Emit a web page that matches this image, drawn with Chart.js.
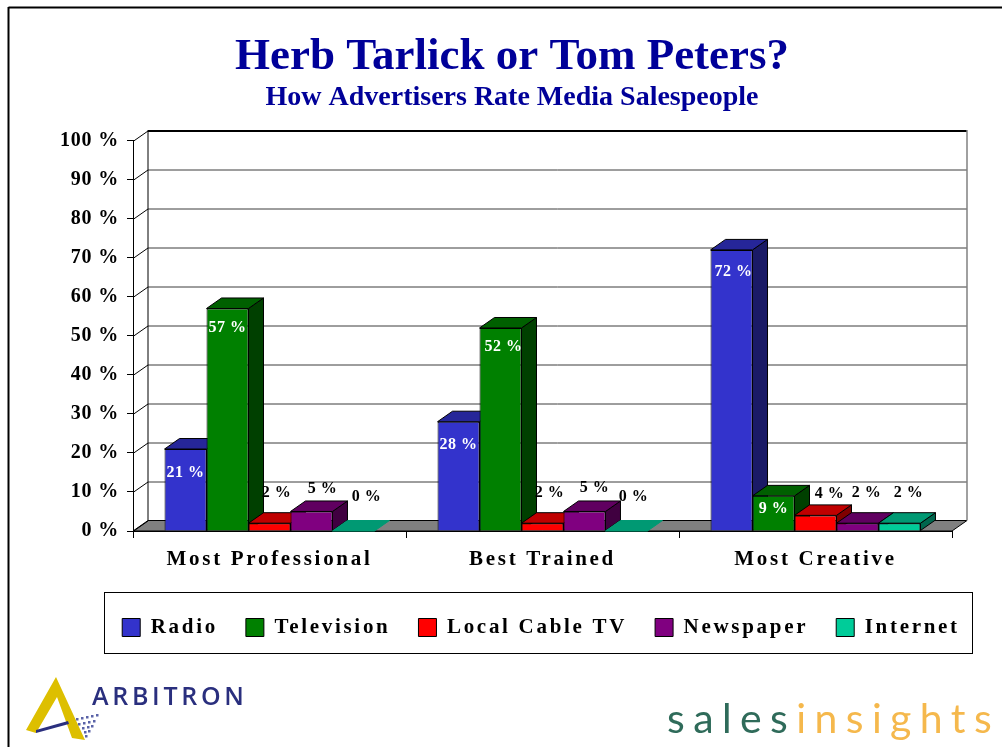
<!DOCTYPE html>
<html><head><meta charset="utf-8">
<style>html,body{margin:0;padding:0;background:#fff}canvas{display:block}</style>
<script src="https://cdn.jsdelivr.net/npm/chart.js@4/dist/chart.umd.min.js"></script>
</head><body><canvas id="c" width="1002" height="747"></canvas>
<script>
const categories = ['Most Professional', 'Best Trained', 'Most Creative'];
const radio = [21, 28, 72];
const television = [57, 52, 9];
const localCable = [2, 2, 4];
const newspaper = [5, 5, 2];
const internet = [0, 0, 2];
const yTicks = [0,10,20,30,40,50,60,70,80,90,100];

const seriesNames = ['Radio','Television','Local Cable TV','Newspaper','Internet'];
const seriesValues = [radio, television, localCable, newspaper, internet];
const fronts = ['#3333CC','#008000','#FF0000','#800080','#00CC99'];
const tops   = ['#262699','#006000','#C00000','#600060','#009973'];
const sides  = ['#1A1A66','#004000','#800000','#400040','#00664D'];
// label nudges relative to bar top-centre [dx, dy, colour], per series then category
const labelNudge = [
  [[0,24,'#fff'],[0,23,'#fff'],[2,22,'#fff']],
  [[0,19,'#fff'],[3,19,'#fff'],[0,13,'#fff']],
  [[7,-30,'#000'],[7,-30,'#000'],[14,-22,'#000']],
  [[11,-23,'#000'],[10,-24,'#000'],[9,-30,'#000']],
  [[13,-34,'#000'],[7,-34,'#000'],[9,-30,'#000']]
];
const DX = 15, DY = 10.5, SERIF = '"Liberation Serif","Times New Roman",serif';

const canvas = document.getElementById('c');
const ctx = canvas.getContext('2d');
const spacing = {45:'0px',28:'0px',16:'0.5px',20:'0.8px',21:'2.7px',25:'3.7px',41:'8.4px'};
const baseFill = CanvasRenderingContext2D.prototype.fillText;
const baseMeasure = CanvasRenderingContext2D.prototype.measureText;
function applySpacing(){ const m = /([\d.]+)px/.exec(ctx.font); ctx.letterSpacing = (m && spacing[Math.round(+m[1])]) || '0px'; }
ctx.fillText = function(t,x,y,w){ applySpacing(); return w===undefined ? baseFill.call(ctx,t,x,y) : baseFill.call(ctx,t,x,y,w); };
ctx.measureText = function(t){ applySpacing(); return baseMeasure.call(ctx,t); };

function poly(pts, fill, stroke, lw){
  ctx.beginPath(); pts.forEach((p,i)=> i?ctx.lineTo(p[0],p[1]):ctx.moveTo(p[0],p[1])); ctx.closePath();
  if(fill){ctx.fillStyle=fill;ctx.fill();}
  if(stroke){ctx.strokeStyle=stroke;ctx.lineWidth=lw||1;ctx.stroke();}
}
function line(x1,y1,x2,y2,c,w){ctx.beginPath();ctx.moveTo(x1,y1);ctx.lineTo(x2,y2);ctx.strokeStyle=c;ctx.lineWidth=w||1;ctx.stroke();}

const scene = {
  id:'scene',
  afterLayout(chart){
    const lg = chart.legend; const shift = 65;
    lg.left += shift; lg.right += shift; lg.top = 589; lg.bottom = 589 + lg.height;
    chart.titleBlock.top = 30; chart.titleBlock.bottom = 30 + chart.titleBlock.height;
    const tb = chart.boxes.filter(b=>b.options && b.options.text && b!==chart.titleBlock);
    tb.forEach(b=>{ b.top=81; b.bottom=81+b.height; });
    [chart.titleBlock].concat(tb).forEach(b=>{ b.left=11; b.right=1002+11; });
  },
  beforeDatasetsDraw(chart){
    const {x,y} = chart.scales, a = chart.chartArea;
    ctx.save();
    const y0 = y.getPixelForValue(0);
    // floor
    poly([[a.left,y0],[a.right,y0],[a.right+DX,y0-DY],[a.left+DX,y0-DY]],'#808080','#000');
    // back wall grid + side wall diagonals
    yTicks.forEach(v=>{
      const p = Math.round(y.getPixelForValue(v))+.5;
      if(v>0) line(a.left+DX,p-DY,a.right+DX,p-DY,v===100?'#000':'#3c3c3c',v===100?2:1);
      line(a.left,p,a.left+DX,p-DY,'#000');
    });
    line(a.left+DX,y.getPixelForValue(100)-DY,a.left+DX,y0-DY,'#000');
    line(a.right+DX,y.getPixelForValue(100)-DY,a.right+DX,y0-DY,'#808080',1.5);
    // depth faces, left to right
    categories.forEach((c,ci)=>{
      chart.data.datasets.forEach((d,si)=>{
        const el = chart.getDatasetMeta(si).data[ci];
        const l = el.x-el.width/2, r = el.x+el.width/2, t = el.y, b = el.base;
        const edge = d.data[ci]>0 ? '#000' : tops[si];
        if(d.data[ci]>0) poly([[r,t],[r+DX,t-DY],[r+DX,b-DY],[r,b]],sides[si],'#000');
        poly([[l,t],[r,t],[r+DX,t-DY],[l+DX,t-DY]],tops[si],edge);
      });
    });
    ctx.restore();
  },
  afterDatasetsDraw(chart){
    ctx.save();
    ctx.font = 'bold 16px '+SERIF; ctx.textAlign='center'; ctx.textBaseline='middle';
    chart.data.datasets.forEach((d,si)=>{
      chart.getDatasetMeta(si).data.forEach((el,ci)=>{
        const n = labelNudge[si][ci];
        ctx.fillStyle = n[2];
        ctx.fillText(d.data[ci]+' %', el.x+n[0], el.y+n[1]);
      });
    });
    ctx.restore();
  },
  afterDraw(){
    ctx.save();
    // page frame
    line(8.5,7.5,1002,7.5,'#000',2); line(8.5,7,8.5,747,'#000',2);
    // legend frame
    ctx.strokeStyle='#000';ctx.lineWidth=1;ctx.strokeRect(104.5,592.5,868,61);
    // Arbitron mark
    poly([[56,677],[26,730],[36,733],[57,697],[72,738],[85,740]],'#DDBF00');
    poly([[36,730],[68,721],[69,724],[36,733]],'#2A2F7E');
    ctx.fillStyle='#5A63A8';
    [[76,718],[81,717],[86,716],[91,715],[96,714],[78,723],[83,722],[88,721],[93,720],[82,727],[87,726],[91,725],[84,731],[88,730],[85,735]].forEach(p=>ctx.fillRect(p[0],p[1],2.5,2.5));
    ctx.textBaseline='alphabetic'; ctx.textAlign='left';
    ctx.font='600 25px "Open Sans",sans-serif'; ctx.fillStyle='#2A2F7E';
    ctx.fillText('ARBITRON',92,705);
    ctx.font='400 41px Lato,sans-serif';
    ctx.fillStyle='#2F6B5A'; ctx.fillText('sales',667,733);
    const w = ctx.measureText('sales').width;
    ctx.fillStyle='#F5B84C'; ctx.fillText('insights',667+w,733);
    ctx.restore();
  }
};

new Chart(ctx,{
  type:'bar',
  plugins:[scene],
  data:{labels:categories,datasets:seriesNames.map((n,i)=>({
    label:n,data:seriesValues[i],backgroundColor:fronts[i],borderColor:'#000',borderWidth:1,
    barPercentage:1,categoryPercentage:0.769
  }))},
  options:{
    responsive:false,animation:false,
    layout:{padding:{left:0,right:50,top:53,bottom:112}},
    plugins:{
      tooltip:{enabled:false},
      title:{display:true,text:'Herb Tarlick or Tom Peters?',color:'#000099',font:{family:SERIF,size:45,weight:'bold'},padding:0},
      subtitle:{display:true,text:'How Advertisers Rate Media Salespeople',color:'#000099',font:{family:SERIF,size:28,weight:'bold'},padding:0},
      legend:{position:'bottom',labels:{color:'#000',font:{family:SERIF,size:21,weight:'bold'},boxWidth:18,boxHeight:18,padding:28}}
    },
    scales:{
      x:{
        afterFit(s){s.height=45;},
        grid:{display:true,drawOnChartArea:false,tickLength:7,color:'#000'},
        border:{color:'#000'},
        ticks:{color:'#000',font:{family:SERIF,size:21,weight:'bold'},padding:9,maxRotation:0}
      },
      y:{
        min:0,max:100,
        afterFit(s){s.width=133;},
        afterBuildTicks(s){s.ticks=yTicks.map(v=>({value:v}));},
        grid:{display:true,drawOnChartArea:false,tickLength:6,color:'#000'},
        border:{color:'#000'},
        ticks:{color:'#000',font:{family:SERIF,size:20,weight:'bold'},padding:8,callback:v=>v+' %'}
      }
    }
  }
});
</script></body></html>
